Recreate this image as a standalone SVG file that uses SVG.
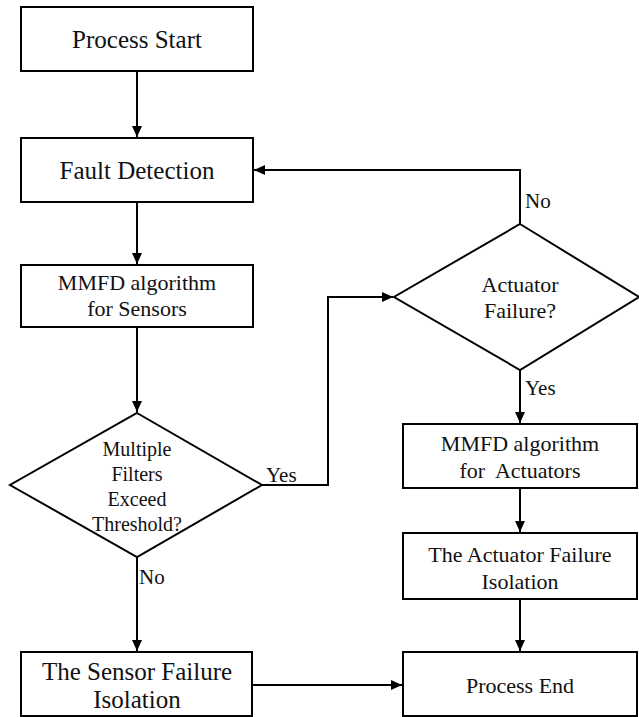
<svg xmlns="http://www.w3.org/2000/svg" width="639" height="717" viewBox="0 0 639 717">
<style>
.box{fill:#fff;stroke:#000;stroke-width:2}
.t{fill:#111;text-anchor:middle}
.lbl{fill:#111;font-size:21px}
.c{fill:none;stroke:#000;stroke-width:2}
</style>
<defs>
<marker id="ah" markerUnits="userSpaceOnUse" markerWidth="12" markerHeight="10" refX="11" refY="5" orient="auto">
<path d="M0,0 L11,5 L0,10 z" fill="#000"/>
</marker>
</defs>
<rect width="639" height="717" fill="#fff"/>
<g font-family="Liberation Serif, DejaVu Serif, serif">
<g id="connectors">
<path class="c" d="M137,71 V137" marker-end="url(#ah)"/>
<path class="c" d="M137,202 V264" marker-end="url(#ah)"/>
<path class="c" d="M137,327 V412" marker-end="url(#ah)"/>
<path class="c" d="M137,557 V651" marker-end="url(#ah)"/>
<path class="c" d="M262,485 H328 V297 H393" marker-end="url(#ah)"/>
<path class="c" d="M520,224 V170 H254" marker-end="url(#ah)"/>
<path class="c" d="M520,370 V423" marker-end="url(#ah)"/>
<path class="c" d="M520,488 V532" marker-end="url(#ah)"/>
<path class="c" d="M520,599 V651" marker-end="url(#ah)"/>
<path class="c" d="M252,685 H402" marker-end="url(#ah)"/>
<text class="lbl" x="266" y="482">Yes</text>
<text class="lbl" x="139" y="584">No</text>
<text class="lbl" x="525" y="208">No</text>
<text class="lbl" x="525" y="395">Yes</text>
</g>
<g id="start">
<rect class="box" x="21" y="7" width="232" height="64"/>
<text class="t" x="137" y="48" font-size="25">Process Start</text>
</g>
<g id="fault-detection">
<rect class="box" x="21" y="138" width="232" height="64"/>
<text class="t" x="137" y="179" font-size="25">Fault Detection</text>
</g>
<g id="mmfd-sensors">
<rect class="box" x="21" y="265" width="232" height="62"/>
<text class="t" x="137" y="290" font-size="22">MMFD algorithm</text>
<text class="t" x="137" y="316" font-size="22">for Sensors</text>
</g>
<g id="multiple-filters">
<polygon class="box" points="137,413 262,485 137,557 10,485"/>
<text class="t" x="137" y="456" font-size="20">Multiple</text>
<text class="t" x="137" y="481" font-size="20">Filters</text>
<text class="t" x="137" y="506" font-size="20">Exceed</text>
<text class="t" x="137" y="531" font-size="20">Threshold?</text>
</g>
<g id="actuator-failure">
<polygon class="box" points="520,224 639,297 520,370 394,297"/>
<text class="t" x="520" y="292" font-size="22">Actuator</text>
<text class="t" x="520" y="318" font-size="22">Failure?</text>
</g>
<g id="mmfd-actuators">
<rect class="box" x="403" y="424" width="234" height="64"/>
<text class="t" x="520" y="451" font-size="22">MMFD algorithm</text>
<text class="t" x="520" y="478" font-size="22" xml:space="preserve">for  Actuators</text>
</g>
<g id="actuator-isolation">
<rect class="box" x="403" y="533" width="234" height="66"/>
<text class="t" x="520" y="562" font-size="22">The Actuator Failure</text>
<text class="t" x="520" y="589" font-size="22">Isolation</text>
</g>
<g id="sensor-isolation">
<rect class="box" x="21" y="652" width="231" height="64"/>
<text class="t" x="137" y="680" font-size="25">The Sensor Failure</text>
<text class="t" x="137" y="708" font-size="25">Isolation</text>
</g>
<g id="end">
<rect class="box" x="403" y="652" width="234" height="64"/>
<text class="t" x="520" y="693" font-size="22">Process End</text>
</g>
</g>
</svg>
